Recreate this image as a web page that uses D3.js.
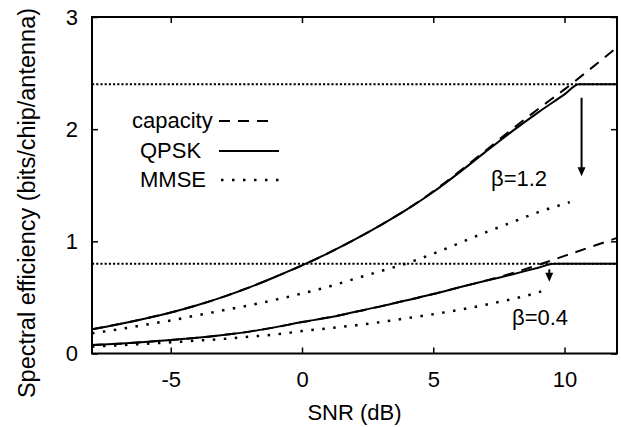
<!DOCTYPE html>
<html>
  <head>
    <meta charset="utf-8">
    <title>Spectral efficiency vs SNR</title>
    <script src="https://d3js.org/d3.v7.min.js"></script>
    <style>
      body { margin: 0; background: #fff; }
      text { font-family: "Liberation Sans", Arial, sans-serif; fill: #000; }
      .curve { fill: none; stroke: #000; }
    </style>
  </head>
  <body>
    <svg width="621" height="427"></svg>
    <script>
      // SNR grid (dB) used by most curves
      const snrDb = [-8, -7, -6, -5, -4, -3, -2, -1, 0, 1, 2, 3, 4, 5, 6, 7, 8, 9, 10, 11, 12];

      // beta = 1.2
      const capacity12 = [0.215, 0.26, 0.31, 0.365, 0.43, 0.505, 0.59, 0.685, 0.785, 0.895, 1.015, 1.145, 1.285, 1.445, 1.625, 1.81, 2.0, 2.18, 2.355, 2.54, 2.73];
      const snrQpsk12 = [-8, -7, -6, -5, -4, -3, -2, -1, 0, 1, 2, 3, 4, 5, 6, 7, 8, 9, 10, 10.55, 11, 12];
      const qpsk12 = [0.215, 0.26, 0.31, 0.365, 0.43, 0.505, 0.59, 0.685, 0.785, 0.895, 1.015, 1.145, 1.285, 1.44, 1.615, 1.8, 1.98, 2.15, 2.31, 2.4, 2.4, 2.4];
      const snrMmse12 = [-8, -7, -6, -5, -4, -3, -2, -1, 0, 1, 2, 3, 4, 5, 6, 7, 8, 9, 10, 10.2];
      const mmse12 = [0.18, 0.215, 0.255, 0.295, 0.34, 0.385, 0.43, 0.48, 0.535, 0.595, 0.665, 0.735, 0.805, 0.89, 0.985, 1.08, 1.17, 1.26, 1.335, 1.35];

      // beta = 0.4
      const capacity04 = [0.075, 0.088, 0.103, 0.12, 0.14, 0.165, 0.195, 0.235, 0.28, 0.32, 0.37, 0.42, 0.475, 0.53, 0.59, 0.65, 0.715, 0.79, 0.87, 0.95, 1.03];
      const snrQpsk04 = [-8, -7, -6, -5, -4, -3, -2, -1, 0, 1, 2, 3, 4, 5, 6, 7, 8, 9, 9.6, 10, 11, 12];
      const qpsk04 = [0.075, 0.088, 0.103, 0.12, 0.14, 0.165, 0.195, 0.235, 0.28, 0.32, 0.37, 0.42, 0.475, 0.53, 0.59, 0.648, 0.705, 0.765, 0.8, 0.8, 0.8, 0.8];
      const snrMmse04 = [-8, -7, -6, -5, -4, -3, -2, -1, 0, 1, 2, 3, 4, 5, 6, 7, 8, 9, 9.2];
      const mmse04 = [0.062, 0.073, 0.086, 0.1, 0.115, 0.13, 0.15, 0.17, 0.2, 0.225, 0.25, 0.28, 0.315, 0.35, 0.39, 0.435, 0.485, 0.545, 0.56];

      // QPSK limits (2 bits x beta)
      const limits = [2.4, 0.8];

      // arrows: [snr, from, to]
      const arrows = [[10.65, 2.28, 1.58], [9.42, 0.75, 0.64]];

      // annotations: [text, snr, value]
      const notes = [["\u03b2=1.2", 7.2, 1.49], ["\u03b2=0.4", 8.0, 0.255]];

      const xTicks = [-5, 0, 5, 10];
      const yTicks = [0, 1, 2, 3];

      const width = 621;
      const height = 427;
      const margin = { top: 17, right: 4, bottom: 73.5, left: 92 };

      const x = d3.scaleLinear().domain([-8, 12]).range([margin.left, width - margin.right]);
      const y = d3.scaleLinear().domain([0, 3]).range([height - margin.bottom, margin.top]);

      const svg = d3.select("svg");

      const defs = svg.append("defs");
      defs.append("clipPath").attr("id", "plot")
        .append("rect")
        .attr("x", margin.left).attr("y", margin.top)
        .attr("width", width - margin.left - margin.right)
        .attr("height", height - margin.top - margin.bottom);

      const plot = svg.append("g").attr("clip-path", "url(#plot)");

      // horizontal dotted limits
      plot.selectAll("line.limit")
        .data(limits)
        .enter()
        .append("line")
        .attr("class", "limit")
        .attr("x1", x(-8)).attr("x2", x(12))
        .attr("y1", d => y(d)).attr("y2", d => y(d))
        .attr("stroke", "#000")
        .attr("stroke-width", 2)
        .attr("stroke-dasharray", "2.2,2");

      const line = d3.line()
        .x(d => x(d[0]))
        .y(d => y(d[1]))
        .curve(d3.curveMonotoneX);

      const zip = (xs, ys) => xs.map((v, i) => [v, ys[i]]);

      const series = [
        { pts: zip(snrDb, capacity12), dash: "11,8", w: 2 },
        { pts: zip(snrDb, capacity04), dash: "11,8", w: 2 },
        { pts: zip(snrQpsk12, qpsk12), dash: null, w: 2 },
        { pts: zip(snrQpsk04, qpsk04), dash: null, w: 2 },
        { pts: zip(snrMmse12, mmse12), dash: "2.5,8.5", w: 2.5 },
        { pts: zip(snrMmse04, mmse04), dash: "2.5,8.5", w: 2.5 }
      ];

      plot.selectAll("path.curve")
        .data(series)
        .enter()
        .append("path")
        .attr("class", "curve")
        .attr("d", d => line(d.pts))
        .attr("stroke-width", d => d.w)
        .attr("stroke-dasharray", d => d.dash);

      // arrows
      arrows.forEach(a => {
        const ax = x(a[0]), y1 = y(a[1]), y2 = y(a[2]);
        svg.append("line")
          .attr("x1", ax).attr("x2", ax)
          .attr("y1", y1).attr("y2", y2 - 8)
          .attr("stroke", "#000").attr("stroke-width", 2);
        svg.append("path")
          .attr("d", `M${ax - 4},${y2 - 9} L${ax + 4},${y2 - 9} L${ax},${y2} Z`)
          .attr("fill", "#000");
      });

      svg.selectAll("text.note")
        .data(notes)
        .enter()
        .append("text")
        .attr("class", "note")
        .attr("x", d => x(d[1]))
        .attr("y", d => y(d[2]))
        .attr("font-size", 22)
        .text(d => d[0]);

      // axes (ticks inside, mirrored on top and right)
      const tickLen = 6;
      const plain = d => String(d);
      svg.append("g")
        .attr("transform", `translate(0,${height - margin.bottom})`)
        .call(d3.axisBottom(x).tickValues(xTicks).tickFormat(plain).tickSizeInner(-tickLen).tickSizeOuter(0).tickPadding(12 + tickLen))
        .call(g => g.select(".domain").remove())
        .call(g => g.selectAll("text").attr("font-size", 22).attr("font-family", "Liberation Sans, Arial, sans-serif"));
      svg.append("g")
        .attr("transform", `translate(0,${margin.top})`)
        .call(d3.axisTop(x).tickValues(xTicks).tickSizeInner(-tickLen).tickSizeOuter(0).tickFormat(""))
        .call(g => g.select(".domain").remove());
      svg.append("g")
        .attr("transform", `translate(${margin.left},0)`)
        .call(d3.axisLeft(y).tickValues(yTicks).tickFormat(plain).tickSizeInner(-tickLen).tickSizeOuter(0).tickPadding(8 + tickLen))
        .call(g => g.select(".domain").remove())
        .call(g => g.selectAll("text").attr("font-size", 22).attr("font-family", "Liberation Sans, Arial, sans-serif"));
      svg.append("g")
        .attr("transform", `translate(${width - margin.right},0)`)
        .call(d3.axisRight(y).tickValues(yTicks).tickSizeInner(-tickLen).tickSizeOuter(0).tickFormat(""))
        .call(g => g.select(".domain").remove());
      svg.selectAll(".tick line").attr("stroke-width", 1.5);

      // frame
      svg.append("rect")
        .attr("x", margin.left).attr("y", margin.top)
        .attr("width", width - margin.left - margin.right)
        .attr("height", height - margin.top - margin.bottom)
        .attr("fill", "none").attr("stroke", "#000").attr("stroke-width", 2);

      // axis titles
      svg.append("text")
        .attr("x", (margin.left + width - margin.right) / 2)
        .attr("y", 420)
        .attr("text-anchor", "middle")
        .attr("font-size", 22)
        .text("SNR (dB)");
      svg.append("text")
        .attr("transform", "translate(35,203) rotate(-90)")
        .attr("text-anchor", "middle")
        .attr("font-size", 23.5)
        .text("Spectral efficiency (bits/chip/antenna)");

      // legend
      const legendRows = [
        { label: "capacity", tx: 132, ty: 128, dash: "11,8", w: 2, lx1: 219, lx2: 276, ly: 121 },
        { label: "QPSK", tx: 140, ty: 158, dash: null, w: 2, lx1: 219, lx2: 279, ly: 151 },
        { label: "MMSE", tx: 140, ty: 187, dash: "2.5,8.5", w: 2.5, lx1: 221, lx2: 282, ly: 180 }
      ];
      const legend = svg.append("g");
      legendRows.forEach(r => {
        legend.append("text").attr("x", r.tx).attr("y", r.ty).attr("font-size", 22).text(r.label);
        legend.append("line")
          .attr("x1", r.lx1).attr("x2", r.lx2).attr("y1", r.ly).attr("y2", r.ly)
          .attr("stroke", "#000").attr("stroke-width", r.w)
          .attr("stroke-dasharray", r.dash);
      });
    </script>
  </body>
</html>
